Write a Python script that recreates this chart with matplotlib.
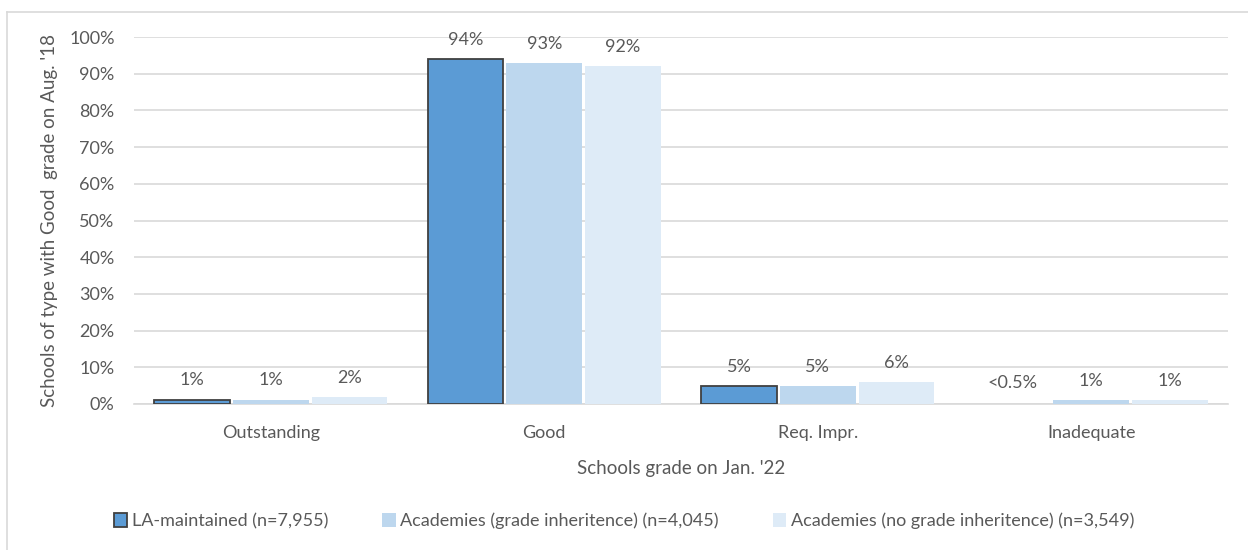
import matplotlib
matplotlib.use("Agg")
import matplotlib.pyplot as plt
from matplotlib.lines import Line2D
from matplotlib.patches import Patch
import numpy as np

categories = ["Outstanding", "Good", "Req. Impr.", "Inadequate"]
series_names = ["LA-maintained (n=7,955)",
                "Academies (grade inheritence) (n=4,045)",
                "Academies (no grade inheritence) (n=3,549)"]
la_values = [1.2, 94.0, 5.0, 0.0]
acad_inh_values = [1.2, 93.0, 5.0, 1.0]
acad_no_values = [2.0, 92.0, 6.0, 1.0]
la_labels = ["1%", "94%", "5%", "<0.5%"]
acad_inh_labels = ["1%", "93%", "5%", "1%"]
acad_no_labels = ["2%", "92%", "6%", "1%"]
y_ticks = [0, 10, 20, 30, 40, 50, 60, 70, 80, 90, 100]

colors = ["#5b9bd5", "#bdd7ee", "#deebf7"]
edges = ["#404040", "none", "none"]
txt = "#595959"
fs = 13

plt.rcParams['font.family'] = ['Lato', 'DejaVu Sans']

fig = plt.figure(figsize=(12.48, 5.5), dpi=100)
# chart border (top and left visible)
fig.lines.append(Line2D([7/1248, 1.0], [1-12/550, 1-12/550], transform=fig.transFigure,
                        color="#d9d9d9", linewidth=1.2))
fig.lines.append(Line2D([7/1248, 7/1248], [1-12/550, 0.0], transform=fig.transFigure,
                        color="#d9d9d9", linewidth=1.2))

ax = fig.add_axes([134/1248, 1-404/550, 1094/1248, 367/550])

x = np.arange(len(categories))
w = 0.277
step = 0.288
all_vals = [la_values, acad_inh_values, acad_no_values]
all_labels = [la_labels, acad_inh_labels, acad_no_labels]
for i, (vals, labs) in enumerate(zip(all_vals, all_labels)):
    pos = x + (i - 1) * step
    lws = [1.3 if (i == 0 and v > 0) else 0 for v in vals]
    ax.bar(pos, vals, width=w, color=colors[i],
           edgecolor=edges[i], linewidth=lws, zorder=3)
    for p, v, l in zip(pos, vals, labs):
        yv = max(v, 0.5)
        ax.annotate(l, (p, yv), xytext=(0, 8), textcoords="offset points",
                    ha="center", va="bottom", fontsize=fs, color=txt)

ax.set_xlim(-0.5, 3.5)
ax.set_ylim(0, 100)
ax.set_yticks(y_ticks)
ax.set_yticklabels([f"{t}%" for t in y_ticks])
ax.set_xticks(x)
ax.set_xticklabels(categories)
ax.grid(axis="y", color="#d9d9d9", linewidth=1.2, zorder=0)
ax.set_axisbelow(True)
for s in ["top", "right", "left"]:
    ax.spines[s].set_visible(False)
ax.spines["bottom"].set_color("#d9d9d9")
ax.spines["bottom"].set_linewidth(1.2)
ax.tick_params(axis="both", length=0, labelsize=fs, colors=txt)
ax.tick_params(axis="x", pad=15)
ax.tick_params(axis="y", pad=14)
ax.set_xlabel("Schools grade on Jan. '22", fontsize=13.5, color=txt, labelpad=14)
ax.set_ylabel("Schools of type with Good  grade on Aug. '18", fontsize=13.5, color=txt, labelpad=8)

handles = [Patch(facecolor=colors[i], edgecolor=edges[i], linewidth=1.3 if i == 0 else 0)
           for i in range(3)]
fig.legend(handles, series_names, loc="center", bbox_to_anchor=(0.5, 1-521/550),
           ncol=3, frameon=False, fontsize=fs, labelcolor=txt,
           handlelength=0.75, handleheight=0.75, handletextpad=0.25, columnspacing=3.0)

fig.savefig("out.png", dpi=100)
